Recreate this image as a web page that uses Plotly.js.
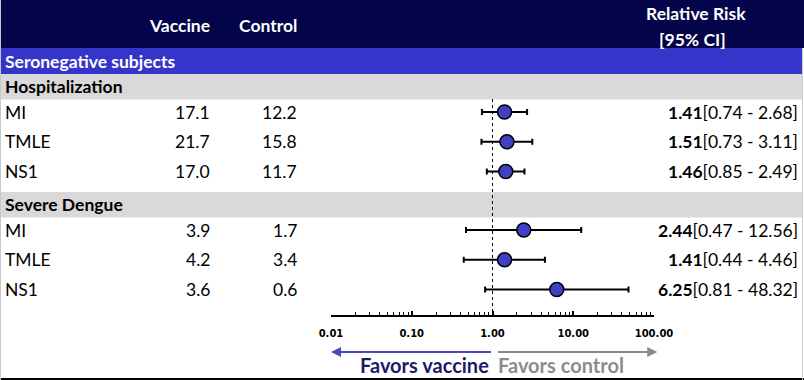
<!DOCTYPE html>
<html>
<head>
<meta charset="utf-8">
<script src="https://cdn.plot.ly/plotly-3.0.1.min.js"></script>
<style>html,body{margin:0;padding:0;background:#fff;}#chart{width:804px;height:380px;}</style>
</head>
<body>
<div id="chart"></div>
<script>
// ---- data ----
const groups = ['Hospitalization', 'Severe Dengue'];
const methods = ['MI', 'TMLE', 'NS1', 'MI', 'TMLE', 'NS1'];
const groupOf = [0, 0, 0, 1, 1, 1];
const vaccine = ['17.1', '21.7', '17.0', '3.9', '4.2', '3.6'];
const control = ['12.2', '15.8', '11.7', '1.7', '3.4', '0.6'];
const rr = [1.41, 1.51, 1.46, 2.44, 1.41, 6.25];
const lower = [0.74, 0.73, 0.85, 0.47, 0.44, 0.81];
const upper = [2.68, 3.11, 2.49, 12.56, 4.46, 48.32];
const tickVals = [0.01, 0.1, 1, 10, 100];
const tickText = ['0.01', '0.10', '1.00', '10.00', '100.00'];
const refRR = 1;
const populationLabel = 'Seronegative subjects';
const headerLabels = ['Vaccine', 'Control', 'Relative Risk', '[95% CI]'];
const favorLabels = ['Favors vaccine', 'Favors control'];

// ---- layout geometry (pixels) ----
const W = 804, H = 380;
const px = v => v / W;
const FONT = 'Lato, Carlito, sans-serif';
const FS = 17.5;
const groupBandTop = [74, 192];
const bandH = 25.5;
const rowStep = 29.8;
const rowY = methods.map((m, i) => {
  const g = groupOf[i];
  const idx = groupOf.slice(0, i).filter(x => x === g).length;
  return groupBandTop[g] + bandH + 12.5 + idx * rowStep;
});
const axisY = 316;

const shapes = [
  {type: 'rect', xref: 'paper', yref: 'y', x0: 0, x1: 1, y0: 0, y1: 48, fillcolor: '#04044a', line: {width: 0}, layer: 'below'},
  {type: 'rect', xref: 'paper', yref: 'y', x0: 0, x1: px(802), y0: 48, y1: 74, fillcolor: '#3535c9', line: {width: 0}, layer: 'below'},
  // borders
  {type: 'line', xref: 'paper', yref: 'y', x0: 0, x1: 1, y0: 379, y1: 379, line: {color: '#000', width: 2}},
  {type: 'line', xref: 'paper', yref: 'y', x0: px(0.5), x1: px(0.5), y0: 0, y1: 380, line: {color: '#c8c8c8', width: 1}},
  {type: 'line', xref: 'paper', yref: 'y', x0: px(802.5), x1: px(802.5), y0: 48, y1: 380, line: {color: '#d0d0d0', width: 1}}
];
groupBandTop.forEach(t => shapes.push({type: 'rect', xref: 'paper', yref: 'y', x0: 0, x1: px(802), y0: t, y1: t + bandH, fillcolor: '#d9d9d9', line: {width: 0}, layer: 'below'}));

const ann = [];
const txt = (x, y, text, opts) => Object.assign({xref: 'paper', yref: 'y', x: px(x), y: y, text: text, showarrow: false, xanchor: 'left', yanchor: 'middle', font: {family: FONT, size: FS, color: '#000'}}, opts || {});
const white = {family: FONT, size: FS, color: '#fff'};
// header
ann.push(txt(212, 25, '<b>' + headerLabels[0] + '</b>', {xanchor: 'right', font: white}));
ann.push(txt(299, 25, '<b>' + headerLabels[1] + '</b>', {xanchor: 'right', font: white}));
ann.push(txt(696, 13.5, '<b>' + headerLabels[2] + '</b>', {xanchor: 'center', font: white}));
ann.push(txt(692, 39.5, '<b>' + headerLabels[3] + '</b>', {xanchor: 'center', font: white}));
ann.push(txt(3, 61.5, '<b>' + populationLabel + '</b>', {font: white}));
groups.forEach((g, k) => ann.push(txt(3, groupBandTop[k] + bandH / 2, '<b>' + g + '</b>')));
methods.forEach((m, i) => {
  ann.push(txt(3, rowY[i], m));
  ann.push(txt(212, rowY[i], vaccine[i], {xanchor: 'right'}));
  ann.push(txt(299, rowY[i], control[i], {xanchor: 'right'}));
  ann.push(txt(800, rowY[i], '<b>' + rr[i].toFixed(2) + '</b>[' + lower[i].toFixed(2) + ' - ' + upper[i].toFixed(2) + ']', {xanchor: 'right'}));
});
// favor arrows
ann.push({xref: 'x', yref: 'y', x: Math.log10(tickVals[0]), y: 352, axref: 'x', ayref: 'y', ax: Math.log10(refRR), ay: 352,
  showarrow: true, arrowhead: 2, arrowsize: 1, arrowwidth: 2, arrowcolor: '#4a4ab8', text: ''});
ann.push({xref: 'x', yref: 'y', x: Math.log10(tickVals[tickVals.length - 1]) + 0.04, y: 352, axref: 'x', ayref: 'y', ax: Math.log10(refRR) + 0.05, ay: 352,
  showarrow: true, arrowhead: 2, arrowsize: 1, arrowwidth: 2, arrowcolor: '#8a8a8a', text: ''});
ann.push(txt(491, 365, '<b>' + favorLabels[0] + '</b>', {xanchor: 'right', font: {family: FONT, size: 20, color: '#1c1c66'}}));
ann.push(txt(496, 365, '<b>' + favorLabels[1] + '</b>', {font: {family: FONT, size: 20, color: '#8c8c8c'}}));

const traces = [
  {x: [refRR, refRR], y: [99, axisY], mode: 'lines', line: {color: '#000', width: 1, dash: '3px,3px'}, hoverinfo: 'skip', showlegend: false},
  {x: rr, y: rowY, mode: 'markers', type: 'scatter', showlegend: false,
   marker: {size: 14, color: '#4040c4', line: {color: '#000', width: 1.5}},
   error_x: {type: 'data', symmetric: false, array: upper.map((u, i) => u - rr[i]), arrayminus: lower.map((l, i) => rr[i] - l), color: '#000', thickness: 2, width: 3}}
];

const layout = {
  width: W, height: H,
  margin: {l: 0, r: 0, t: 0, b: 0},
  paper_bgcolor: '#fff', plot_bgcolor: 'rgba(0,0,0,0)',
  showlegend: false,
  xaxis: {type: 'log', range: [-2, 2], domain: [px(331), px(654)], anchor: 'free', position: (H - axisY) / H,
    showline: true, linecolor: '#000', linewidth: 2, showgrid: false, zeroline: false,
    tickmode: 'array', tickvals: tickVals, ticktext: tickText, ticks: 'inside', ticklen: 4, tickwidth: 2, tickcolor: '#000',
    ticklabelstandoff: 8,
    tickfont: {family: 'DejaVu Sans', size: 10, color: '#000', weight: 'bold'},
    minor: {ticks: 'inside', ticklen: 3, tickwidth: 1, tickcolor: '#000', dtick: 'D1', showgrid: false},
    fixedrange: true},
  yaxis: {range: [H, 0], domain: [0, 1], visible: false, fixedrange: true},
  shapes: shapes,
  annotations: ann
};
Plotly.newPlot('chart', traces, layout, {staticPlot: true, displayModeBar: false});
</script>
</body>
</html>
